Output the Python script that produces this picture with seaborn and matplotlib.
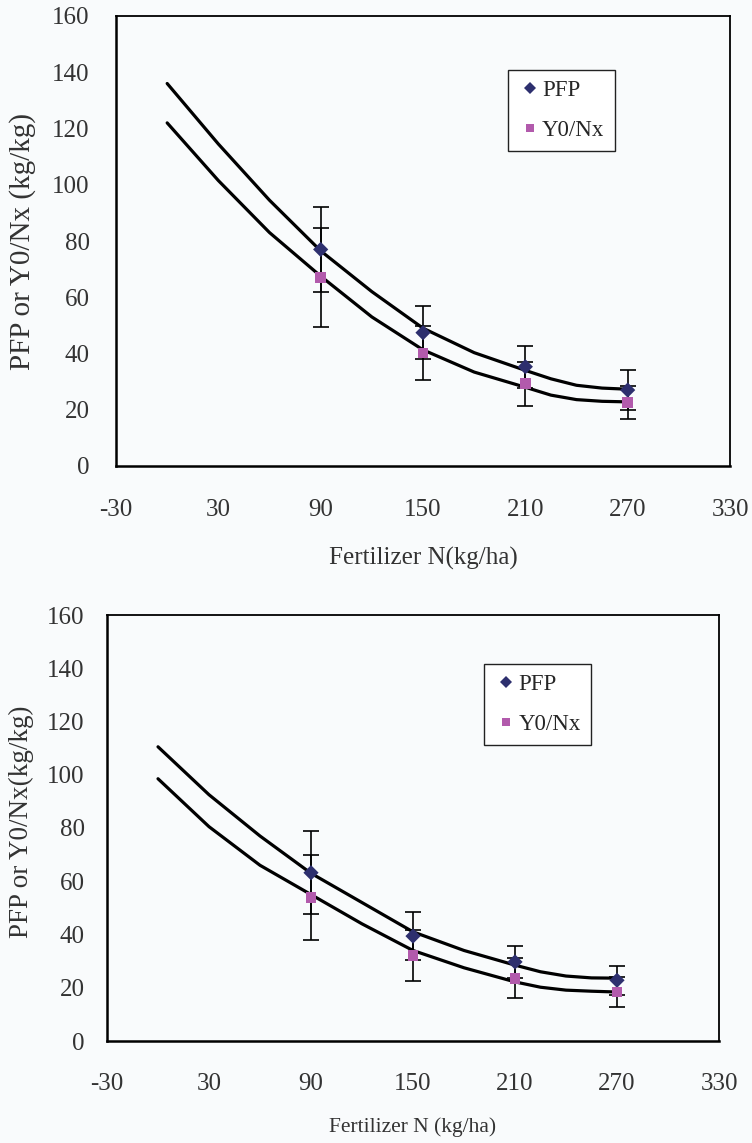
import numpy as np
import pandas as pd
import matplotlib
matplotlib.use("Agg")
import matplotlib.pyplot as plt
import seaborn as sns

# datos
n_rates = [90, 150, 210, 270]

# panel superior
pfp_top = [77, 47.4, 35.3, 27]
pfp_top_err = [15, 9.5, 7.5, 7]
y0_top = [67, 40.2, 29.2, 22.6]
y0_top_err = [17.5, 9.7, 7.7, 6]

# panel inferior
pfp_bot = [63.2, 39.4, 29.7, 22.8]
pfp_bot_err = [15.5, 9, 6, 5.4]
y0_bot = [54, 32.2, 23.5, 18.4]
y0_bot_err = [16, 9.5, 7.5, 5.6]

# curvas de ajuste
curve_x = [0, 30, 60, 90, 120, 150, 180, 210, 225, 240, 255, 270]
pfp_top_curve = [136, 114.5, 94.5, 76.5, 62, 49, 40.3, 34, 31, 28.7, 27.7, 27.3]
y0_top_curve = [122, 101.5, 83, 67.5, 53, 41.3, 33.4, 28, 25.2, 23.6, 23, 22.8]
pfp_bot_curve = [110.5, 92.5, 77, 63, 52, 41, 34, 28.5, 26, 24.4, 23.7, 23.6]
y0_bot_curve = [98.5, 80.5, 66, 55, 44, 34, 27.5, 22.2, 20.2, 19.1, 18.7, 18.4]

x_ticks = [-30, 30, 90, 150, 210, 270, 330]
y_ticks = [0, 20, 40, 60, 80, 100, 120, 140, 160]

pfp_color = "#2d2f6e"
y0_color = "#b25aac"
bg = "#f9fbfc"
txt = "#333333"

sns.set_style("white")
plt.rcParams["font.family"] = ["Liberation Serif", "DejaVu Serif"]
plt.rcParams["axes.unicode_minus"] = False

fig = plt.figure(figsize=(7.52, 11.43), dpi=100, facecolor=bg)
ax1 = fig.add_axes([116 / 752, 1 - 466 / 1143, 614 / 752, 450 / 1143])
ax2 = fig.add_axes([107 / 752, 1 - 1041 / 1143, 612 / 752, 426 / 1143])


def panel(ax, pfp, pfp_err, y0, y0_err, pfp_c, y0_c, xlabel, ylabel,
          leg_anchor, xlab_size, ylab_size, xlab_pos, ylab_pos, ypad, xpad):
    ax.set_facecolor(bg)
    # curvas
    sns.lineplot(x=curve_x, y=pfp_c, ax=ax, color="black", lw=2.3, zorder=4)
    sns.lineplot(x=curve_x, y=y0_c, ax=ax, color="black", lw=2.3, zorder=4)
    # barras de error
    ax.errorbar(n_rates, pfp, yerr=pfp_err, fmt="none", ecolor="black",
                elinewidth=1.2, capsize=5.5, capthick=1.2, zorder=2)
    ax.errorbar(n_rates, y0, yerr=y0_err, fmt="none", ecolor="black",
                elinewidth=1.2, capsize=5.5, capthick=1.2, zorder=2)
    df = pd.DataFrame({
        "N": n_rates * 2,
        "val": pfp + y0,
        "serie": ["PFP"] * 4 + ["Y0/Nx"] * 4,
    })
    sns.scatterplot(data=df, x="N", y="val", hue="serie", style="serie",
                    markers={"PFP": "D", "Y0/Nx": "s"},
                    palette={"PFP": pfp_color, "Y0/Nx": y0_color},
                    s=60, linewidth=0, ax=ax, zorder=5, legend=True)
    ax.set_xlim(-30, 330)
    ax.set_ylim(0, 160)
    ax.set_xticks(x_ticks)
    ax.set_yticks(y_ticks)
    ax.tick_params(direction="in", length=6.5, width=1.0, labelsize=18,
                   colors="black", labelcolor=txt)
    ax.tick_params(axis="x", pad=xpad)
    ax.tick_params(axis="y", pad=ypad)
    for sp in ax.spines.values():
        sp.set_visible(True)
        sp.set_color("black")
        sp.set_linewidth(1.3)
    ax.spines["left"].set_linewidth(1.8)
    ax.spines["bottom"].set_linewidth(1.8)
    ax.set_xlabel(xlabel, fontsize=xlab_size, color=txt)
    ax.set_ylabel(ylabel, fontsize=ylab_size, color=txt)
    ax.xaxis.set_label_coords(*xlab_pos)
    ax.yaxis.set_label_coords(*ylab_pos)
    handles, labels = ax.get_legend_handles_labels()
    leg = ax.legend(handles, labels, loc="upper left", bbox_to_anchor=leg_anchor,
                    borderaxespad=0, fontsize=16.5, frameon=True, fancybox=False,
                    framealpha=1, edgecolor="#222222", facecolor="white",
                    handletextpad=0.05, borderpad=0.45, labelspacing=0.8,
                    handlelength=1.0, markerscale=0.8)
    leg.get_frame().set_linewidth(1.0)


panel(ax1, pfp_top, pfp_top_err, y0_top, y0_top_err, pfp_top_curve, y0_top_curve,
      "Fertilizer N(kg/ha)", "PFP or Y0/Nx (kg/kg)", (0.638, 0.88),
      18, 21, (0.5, -0.18), (-0.13, 0.5), 19, 24)
panel(ax2, pfp_bot, pfp_bot_err, y0_bot, y0_bot_err, pfp_bot_curve, y0_bot_curve,
      "Fertilizer N (kg/ha)", "PFP or Y0/Nx(kg/kg)", (0.616, 0.885),
      15.5, 19.5, (0.5, -0.178), (-0.12, 0.514), 16, 23)

fig.savefig("out.png", dpi=100, facecolor=bg)
